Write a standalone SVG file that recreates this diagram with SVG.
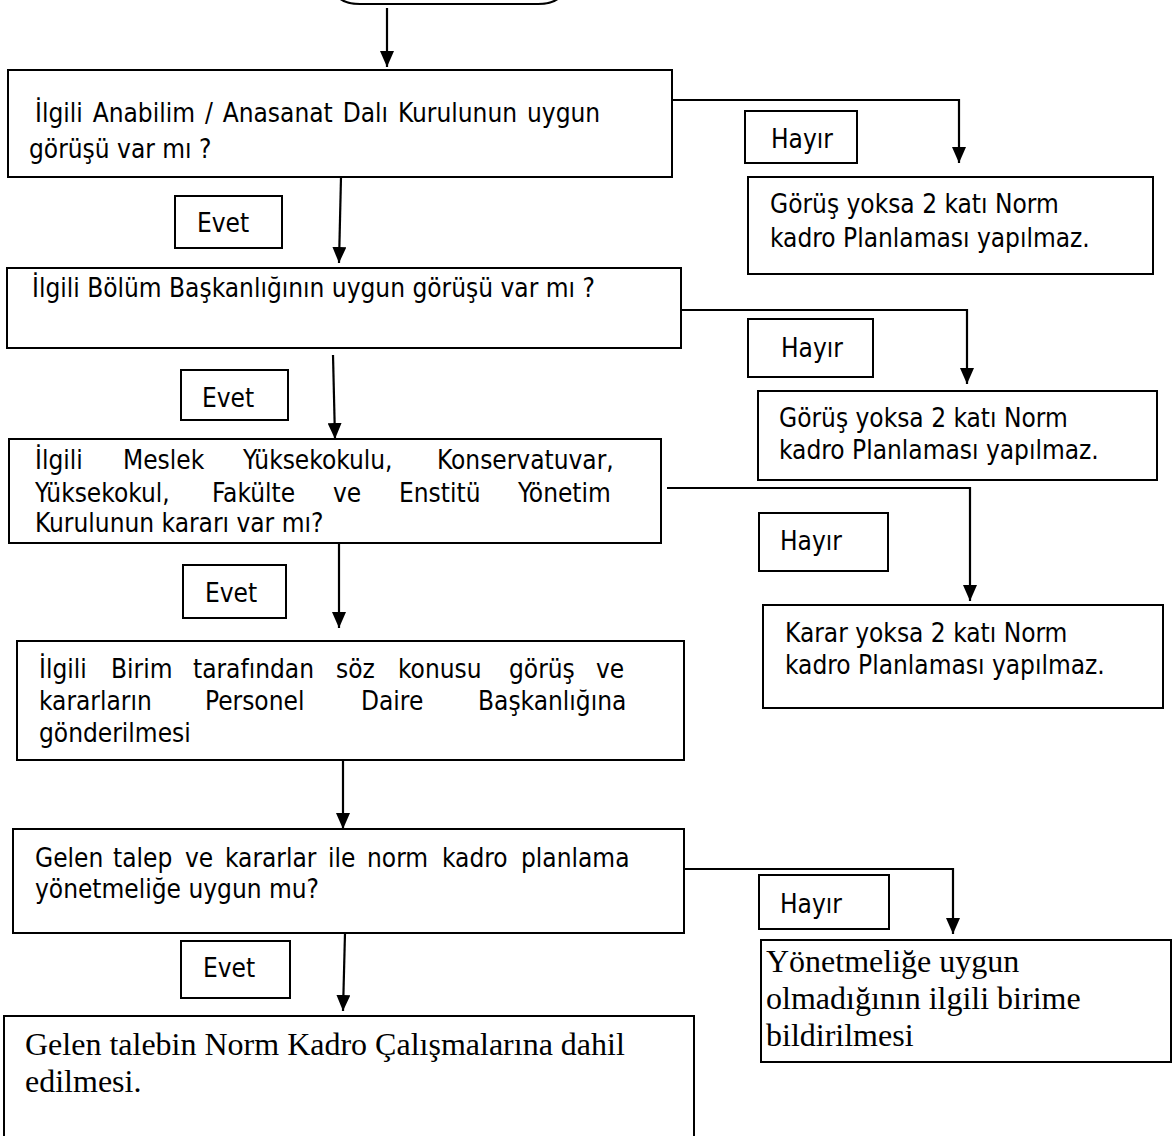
<svg xmlns="http://www.w3.org/2000/svg" width="1176" height="1136" viewBox="0 0 1176 1136">
<style>
.box{fill:#fff;stroke:#000;stroke-width:2}
.lbl{fill:#fff;stroke:#000;stroke-width:2}
.t{font-family:"DejaVu Sans Condensed","DejaVu Sans",sans-serif;font-size:26px;fill:#000}
.s{font-family:"Liberation Serif","Times New Roman",serif;font-size:32px;fill:#000}
.c{fill:none;stroke:#000;stroke-width:2.2}
</style>
<defs>
<marker id="ah" viewBox="0 0 16 14" refX="16" refY="7" markerWidth="16" markerHeight="14" markerUnits="userSpaceOnUse" orient="auto">
<path d="M0,0 L16,7 L0,14 z" fill="#000"/>
</marker>
</defs>
<rect width="1176" height="1136" fill="#fff"/>
<g id="start">
<path class="c" d="M335,-10 Q338,4 360,4 L538,4 Q560,4 563,-10"/>
</g>
<g id="connectors">
<line class="c" x1="387" y1="8" x2="387" y2="67" marker-end="url(#ah)"/>
<polyline class="c" points="672,100 959,100 959,163" marker-end="url(#ah)"/>
<line class="c" x1="341" y1="177" x2="339" y2="263" marker-end="url(#ah)"/>
<polyline class="c" points="681,310 967,310 967,384" marker-end="url(#ah)"/>
<line class="c" x1="333" y1="355" x2="335" y2="439" marker-end="url(#ah)"/>
<polyline class="c" points="667,488 970,488 970,601" marker-end="url(#ah)"/>
<line class="c" x1="339" y1="543" x2="339" y2="628" marker-end="url(#ah)"/>
<line class="c" x1="343" y1="760" x2="343" y2="829" marker-end="url(#ah)"/>
<polyline class="c" points="684,869 953,869 953,934" marker-end="url(#ah)"/>
<line class="c" x1="345" y1="933" x2="343" y2="1011" marker-end="url(#ah)"/>
</g>
<g id="q1">
<rect class="box" x="8" y="70" width="664" height="107"/>
<text class="t" x="35" y="122" word-spacing="2.5">İlgili Anabilim / Anasanat Dalı Kurulunun uygun</text>
<text class="t" x="29" y="158">görüşü var mı ?</text>
</g>
<g id="hayir1">
<rect class="lbl" x="745" y="111" width="112" height="52"/>
<text class="t" x="771" y="148">Hayır</text>
</g>
<g id="r1">
<rect class="box" x="748" y="177" width="405" height="97"/>
<text class="t" x="770" y="213">Görüş yoksa 2 katı Norm</text>
<text class="t" x="770" y="247">kadro Planlaması yapılmaz.</text>
</g>
<g id="evet1">
<rect class="lbl" x="175" y="196" width="107" height="52"/>
<text class="t" x="197" y="232">Evet</text>
</g>
<g id="q2">
<rect class="box" x="7" y="268" width="674" height="80"/>
<text class="t" x="32" y="297">İlgili Bölüm Başkanlığının uygun görüşü var mı ?</text>
</g>
<g id="hayir2">
<rect class="lbl" x="748" y="319" width="125" height="58"/>
<text class="t" x="781" y="357">Hayır</text>
</g>
<g id="r2">
<rect class="box" x="758" y="391" width="399" height="89"/>
<text class="t" x="779" y="427">Görüş yoksa 2 katı Norm</text>
<text class="t" x="779" y="459">kadro Planlaması yapılmaz.</text>
</g>
<g id="evet2">
<rect class="lbl" x="181" y="370" width="107" height="50"/>
<text class="t" x="202" y="407">Evet</text>
</g>
<g id="q3">
<rect class="box" x="9" y="439" width="652" height="104"/>
<text class="t" y="469"><tspan x="35">İlgili</tspan><tspan x="123">Meslek</tspan><tspan x="243">Yüksekokulu,</tspan><tspan x="437">Konservatuvar,</tspan></text>
<text class="t" y="502"><tspan x="35">Yüksekokul,</tspan><tspan x="212">Fakülte</tspan><tspan x="333">ve</tspan><tspan x="399">Enstitü</tspan><tspan x="518">Yönetim</tspan></text>
<text class="t" x="35" y="532">Kurulunun kararı var mı?</text>
</g>
<g id="hayir3">
<rect class="lbl" x="759" y="513" width="129" height="58"/>
<text class="t" x="780" y="550">Hayır</text>
</g>
<g id="r3">
<rect class="box" x="763" y="605" width="400" height="103"/>
<text class="t" x="785" y="642">Karar yoksa 2 katı Norm</text>
<text class="t" x="785" y="674">kadro Planlaması yapılmaz.</text>
</g>
<g id="evet3">
<rect class="lbl" x="183" y="565" width="103" height="53"/>
<text class="t" x="205" y="602">Evet</text>
</g>
<g id="p4">
<rect class="box" x="17" y="641" width="667" height="119"/>
<text class="t" y="678"><tspan x="39">İlgili</tspan><tspan x="111">Birim</tspan><tspan x="193">tarafından</tspan><tspan x="336">söz</tspan><tspan x="398">konusu</tspan><tspan x="509">görüş</tspan><tspan x="596">ve</tspan></text>
<text class="t" y="710"><tspan x="39">kararların</tspan><tspan x="205">Personel</tspan><tspan x="361">Daire</tspan><tspan x="478">Başkanlığına</tspan></text>
<text class="t" x="39" y="742">gönderilmesi</text>
</g>
<g id="q5">
<rect class="box" x="13" y="829" width="671" height="104"/>
<text class="t" y="867"><tspan x="35">Gelen</tspan><tspan x="113">talep</tspan><tspan x="185">ve</tspan><tspan x="225">kararlar</tspan><tspan x="328">ile</tspan><tspan x="367">norm</tspan><tspan x="442">kadro</tspan><tspan x="521">planlama</tspan></text>
<text class="t" x="35" y="898">yönetmeliğe uygun mu?</text>
</g>
<g id="hayir4">
<rect class="lbl" x="759" y="875" width="130" height="54"/>
<text class="t" x="780" y="913">Hayır</text>
</g>
<g id="r4">
<rect class="box" x="761" y="940" width="410" height="122"/>
<text class="s" x="766" y="972">Yönetmeliğe uygun</text>
<text class="s" x="766" y="1009">olmadığının ilgili birime</text>
<text class="s" x="766" y="1046">bildirilmesi</text>
</g>
<g id="evet4">
<rect class="lbl" x="181" y="941" width="109" height="57"/>
<text class="t" x="203" y="977">Evet</text>
</g>
<g id="final">
<rect class="box" x="4" y="1016" width="690" height="130"/>
<text class="s" x="25" y="1055">Gelen talebin Norm Kadro Çalışmalarına dahil</text>
<text class="s" x="25" y="1092">edilmesi.</text>
</g>
</svg>
